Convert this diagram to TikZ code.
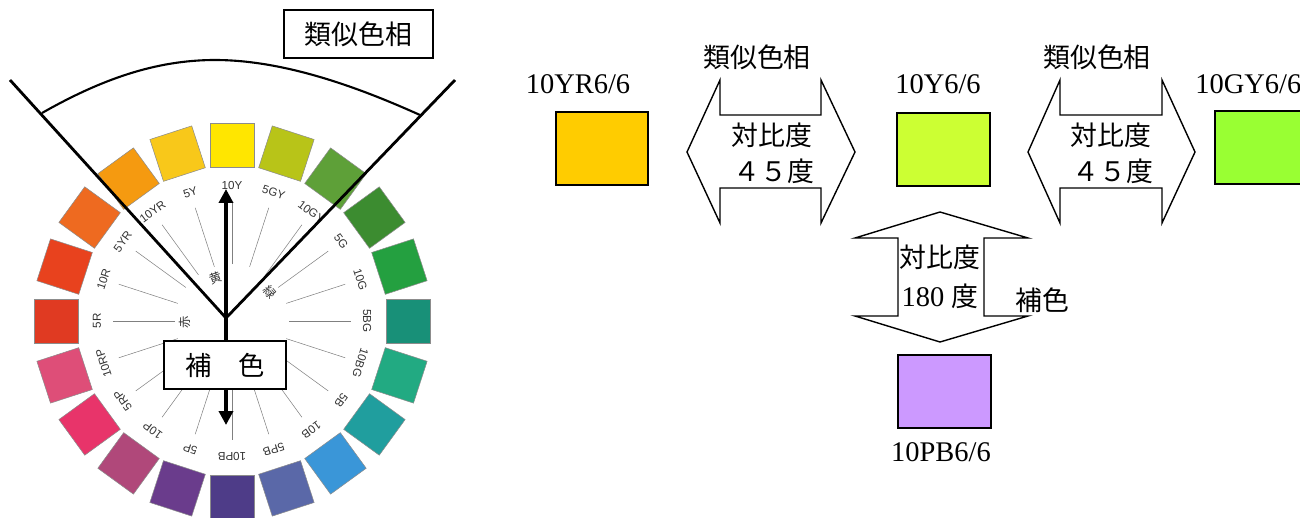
\documentclass[tikz,border=0pt]{standalone}
\usepackage{fontspec}
\setmainfont{Liberation Serif}
\newfontfamily\jp{Noto Sans CJK JP}
\newfontfamily\lab{Liberation Sans}
\usetikzlibrary{arrows.meta}
\definecolor{w10Y}{HTML}{FFE600}
\definecolor{w5Y}{HTML}{F8C81A}
\definecolor{w10YR}{HTML}{F59A10}
\definecolor{w5YR}{HTML}{EE6A20}
\definecolor{w10R}{HTML}{E8421E}
\definecolor{w5R}{HTML}{E03A22}
\definecolor{w10RP}{HTML}{DE4E78}
\definecolor{w5RP}{HTML}{E8346A}
\definecolor{w10P}{HTML}{B0487A}
\definecolor{w5P}{HTML}{6A3C8C}
\definecolor{w10PB}{HTML}{4E3C88}
\definecolor{w5PB}{HTML}{5A68A8}
\definecolor{w10B}{HTML}{3A96D8}
\definecolor{w5B}{HTML}{209E9E}
\definecolor{w10BG}{HTML}{22AA82}
\definecolor{w5BG}{HTML}{189078}
\definecolor{w10G}{HTML}{24A040}
\definecolor{w5G}{HTML}{3C8C30}
\definecolor{w10GY}{HTML}{5EA038}
\definecolor{w5GY}{HTML}{B8C418}
\definecolor{sw10YR}{HTML}{FFCC00}
\definecolor{sw10Y}{HTML}{CCFF33}
\definecolor{sw10GY}{HTML}{99FF33}
\definecolor{sw10PB}{HTML}{CC99FF}
\begin{document}
\begin{tikzpicture}[x=0.02cm,y=-0.02cm,
  swatch/.style={draw=black, line width=0.9pt, inner sep=0pt, minimum width=1.84cm, minimum height=1.46cm},
  wsq/.style={draw=black!45, line width=0.3pt},
  blockarrow/.style={draw=black, line width=0.8pt, fill=white, line join=miter},
  cjk/.style={font=\jp\fontsize{15.3}{18}\selectfont, inner sep=0pt},
  code/.style={font=\fontsize{16.2}{19}\selectfont, inner sep=0pt},
  wheellab/.style={font=\lab\fontsize{6.6}{7}\selectfont, text=black!80, inner sep=0pt},
  tiny/.style={font=\jp\fontsize{7}{8}\selectfont, text=black!80, inner sep=0pt},
  labelbox/.style={draw=black, line width=1.2pt, fill=white, minimum height=0.96cm, inner sep=0pt},
  thickarrow/.style={line width=2pt, -{Triangle[length=0.28cm,width=0.28cm]}}
]
\useasboundingbox (0,0) rectangle (1300,517);

% ---- colour wheel ----
\begin{scope}
\clip (0,0) rectangle (431,517);
\foreach \a/\l in {90/10Y,72/5GY,54/10GY,36/5G,18/10G,0/5BG,-18/10BG,-36/5B,-54/10B,-72/5PB,-90/10PB,-108/5P,-126/10P,-144/5RP,-162/10RP,180/5R,162/10R,144/5YR,126/10YR,108/5Y}{
  \draw[wsq, fill=w\l, shift={({232+176*cos(\a)},{321-176*sin(\a)})}, rotate=\a-90] (-22,-22) rectangle (22,22);
  \draw[black!50, line width=0.3pt] ({232+57*cos(\a)},{321-57*sin(\a)}) -- ({232+119*cos(\a)},{321-119*sin(\a)});
  \node[wheellab, rotate=\a-90] (lab\l) at ({232+135*cos(\a)},{321-135*sin(\a)}) {\l};
}
\end{scope}
\node[tiny, rotate=90] (aka) at (185,322) {赤};
\node[tiny, rotate=20] (ki) at (216,278) {黄};
\node[tiny, rotate=-50] (midori) at (270,292) {緑};

% ---- V lines and arc ----
\coordinate (v) at (226,318);
\coordinate (vl) at (10,80);
\coordinate (vr) at (455,80);
\coordinate (al) at (42,113);
\coordinate (ap) at (215,60);
\coordinate (ar) at (420,115);
\draw[line width=1.6pt] (vl) -- (v) -- (vr);
\draw[line width=1.2pt] (al) .. controls (100,80) and (155,60) .. (ap) .. controls (285,60) and (360,88) .. (ar);
\node[labelbox, minimum width=2.98cm] (ruiji) at (358.5,34) {\jp\fontsize{15.3}{18}\selectfont 類似色相};

% ---- arrows from centre ----
\coordinate (up) at (226,189);
\coordinate (down) at (226,425);
\draw[thickarrow] (v) -- (up);
\draw[thickarrow] (v) -- (down);
\node[labelbox, minimum width=2.44cm] (hoshoku) at (225,365) {\jp\fontsize{15}{18}\selectfont 補　色};

% ---- swatches ----
\node[code] (t10YR) at (578,84) {10YR6/6};
\node[swatch, fill=sw10YR] (s10YR) at (602,148.5) {};
\node[code] (t10Y) at (938,84) {10Y6/6};
\node[swatch, fill=sw10Y, minimum width=1.86cm] (s10Y) at (943.5,149.5) {};
\node[code, anchor=west] (t10GY) at (1195,84) {10GY6/6};
\node[swatch, fill=sw10GY, anchor=north west] (s10GY) at (1214,110) {};
\node[swatch, fill=sw10PB, minimum width=1.86cm] (s10PB) at (944.5,391.5) {};
\node[code] (t10PB) at (941,452) {10PB6/6};

% ---- block arrows ----
\draw[blockarrow] (687,152) -- (720,80) -- (720,115) -- (821,115) -- (821,80) -- (855,152) -- (821,223) -- (821,188) -- (720,188) -- (720,223) -- cycle;
\node[cjk] (r1) at (757,57) {類似色相};
\node[cjk] (c1a) at (772,135) {対比度};
\node[cjk] (c1b) at (774,171) {４５度};

\draw[blockarrow] (1028,152) -- (1060,80) -- (1060,115) -- (1162,115) -- (1162,80) -- (1195,152) -- (1162,223) -- (1162,188) -- (1060,188) -- (1060,223) -- cycle;
\node[cjk] (r2) at (1097,57) {類似色相};
\node[cjk] (c2a) at (1111,135) {対比度};
\node[cjk] (c2b) at (1113,171) {４５度};

\draw[blockarrow] (940,212) -- (1028,238) -- (984,238) -- (984,316) -- (1028,316) -- (940,342) -- (855,316) -- (898,316) -- (898,238) -- (855,238) -- cycle;
\node[cjk] (c3a) at (940,257) {対比度};
\node[inner sep=0pt] (c3b) at (940,296) {\fontsize{16.2}{19}\selectfont 180 {\jp\fontsize{15.3}{18}\selectfont 度}};
\node[cjk] (hs) at (1042,300) {補色};
\end{tikzpicture}
\end{document}
